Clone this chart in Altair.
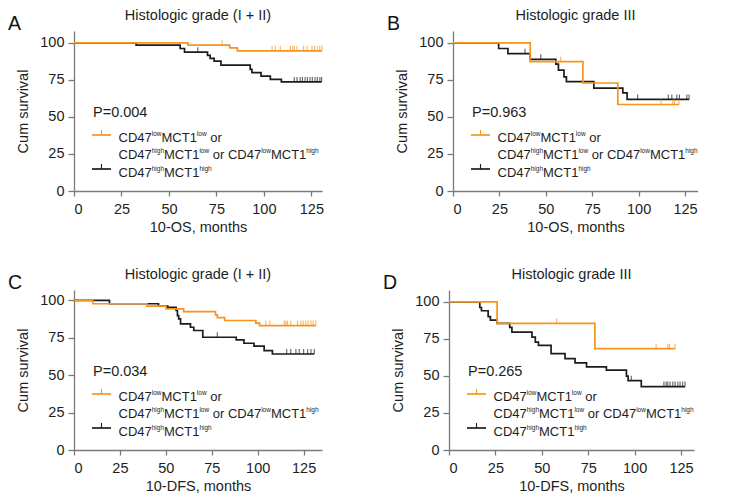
import altair as alt
import pandas as pd

FONT = "Liberation Sans"
ORANGE = "#F7941D"
BLACK = "#1c1c1c"
AXIS_GREY = "#7a7a7a"
TEXT = "#1e1e1e"

# ---------------- data ----------------
# Panel A: 10-OS, histologic grade (I + II)
a_low_t = [0, 60, 82, 86, 130.6]
a_low_s = [100, 98.4, 96.6, 94.6, 94.6]
a_low_cens = [78, 104.3, 106.0, 108.6, 113.9, 115.2, 116.0, 117.4, 120.9, 122.7,
              125.3, 126.6, 128.0, 129.4, 130.6]
a_high_t = [0, 32.7, 55.9, 58.2, 70.3, 71.7, 73.8, 77.4, 92.8, 93.7, 98.5, 103.4, 109.2, 130.4]
a_high_s = [100, 98.4, 96.2, 93.7, 91.5, 89.5, 87.7, 85.0, 82.1, 79.9, 77.6, 75.4, 73.6, 73.6]
a_high_cens = [65.2, 116.0, 117.4, 119.1, 120.3, 121.7, 122.9, 124.3, 125.5, 126.9,
               128.1, 129.5, 130.4]

# Panel B: 10-OS, histologic grade III
b_low_t = [0, 41.6, 70.0, 88.8, 121.8]
b_low_s = [100, 87.3, 72.9, 58.4, 58.4]
b_low_cens = [58.0, 112.0, 118.4, 119.3, 121.8]
b_high_t = [0, 24.6, 29.6, 41.6, 55.4, 56.8, 59.8, 61.1, 75.9, 91.5, 93.8, 127.2]
b_high_s = [100, 96.2, 92.7, 88.9, 85.6, 81.6, 77.1, 73.8, 69.5, 66.2, 61.8, 61.8]
b_high_cens = [38.8, 47.3, 99.5, 116.0, 117.9, 120.6, 122.0, 126.0, 127.2]

# Panel C: 10-DFS, histologic grade (I + II)
c_low_t = [0, 10.2, 39.7, 50.1, 59.7, 77.0, 78.0, 82.0, 99.0, 101.0, 131.7]
c_low_s = [100, 97.8, 96.2, 94.4, 92.6, 90.3, 88.5, 86.6, 84.8, 83.2, 83.2]
c_low_cens = [104.4, 106.6, 114.4, 115.3, 116.2, 118.0, 121.7, 123.5, 124.8, 126.2,
              127.5, 129.0, 130.2, 131.7]
c_high_t = [0, 19.3, 46.0, 51.0, 55.6, 56.3, 57.0, 58.0, 63.4, 65.2, 70.1, 88.3, 92.5,
            98.0, 103.5, 108.0, 130.8]
c_high_s = [100, 97.8, 96.2, 95.4, 93.3, 89.9, 87.7, 84.3, 82.1, 79.9, 75.4, 73.6, 71.4,
            69.4, 66.4, 64.2, 64.2]
c_high_cens = [78.0, 115.8, 118.0, 120.8, 122.6, 125.0, 127.2, 129.0, 130.8]

# Panel D: 10-DFS, histologic grade III
d_low_t = [0, 25.9, 78.6, 121.8]
d_low_s = [100, 85.5, 68.4, 68.4]
d_low_cens = [58.0, 111.6, 117.9, 118.8, 121.8]
d_high_t = [0, 16.6, 17.5, 21.1, 22.3, 25.9, 32.7, 33.9, 44.7, 46.5, 48.2, 55.0, 62.5,
            67.9, 74.1, 84.8, 95.6, 96.5, 103.6, 127.2]
d_high_s = [100, 96.2, 94.0, 90.0, 87.7, 85.5, 82.8, 79.5, 76.2, 72.8, 70.6, 65.0, 61.7,
            58.8, 56.1, 53.9, 49.9, 46.8, 42.8, 42.8]
d_high_cens = [98.2, 115.8, 117.0, 117.9, 119.1, 120.6, 121.8, 123.3, 124.5, 125.9, 127.2]

panel_letters = ["A", "B", "C", "D"]
panel_titles = ["Histologic grade (I + II)", "Histologic grade III",
                "Histologic grade (I + II)", "Histologic grade III"]
x_titles = ["10-OS, months", "10-OS, months", "10-DFS, months", "10-DFS, months"]
p_values = ["P=0.004", "P=0.963", "P=0.034", "P=0.265"]
x_ticks = [0, 25, 50, 75, 100, 125]
y_ticks = [0, 25, 50, 75, 100]
x_max = [130.6, 132, 135, 132]
y_max = [108, 108, 107, 108]

# ---------------- helpers ----------------
ARIAL_W = {'C': 722, 'D': 722, '4': 556, '7': 556, 'M': 833, 'T': 611, '1': 556,
           ' ': 278, 'o': 556, 'r': 333, 'l': 222, 'w': 722, 'h': 556,
           'i': 222, 'g': 556}


def text_w(s, size):
    return sum(ARIAL_W.get(ch, 556) for ch in s) * size / 1000.0


def step_value(ts, ss, t):
    v = ss[0]
    for ti, si in zip(ts, ss):
        if ti <= t:
            v = si
    return v


MAIN = 13.0
SUP = 6.5
RAISE = 6.0

legend_lines = [
    [("CD47", False), ("low", True), ("MCT1", False), ("low", True), (" or", False)],
    [("CD47", False), ("high", True), ("MCT1", False), ("low", True),
     (" or", False), (" CD47", False), ("low", True), ("MCT1", False), ("high", True)],
    [("CD47", False), ("high", True), ("MCT1", False), ("high", True)],
]
legend_base = [110.5, 128, 145.5]
LEG_X = 44.5


def panel(i, low_t, low_s, low_c, high_t, high_s, high_c, w, h):
    xs = alt.Scale(domain=[0, x_max[i]], nice=False, zero=False)
    ys = alt.Scale(domain=[0, y_max[i]], nice=False, zero=False)
    xaxis = alt.Axis(values=x_ticks, title=x_titles[i], tickSize=5, labelPadding=6,
                     titlePadding=5, labelOverlap=False)
    yaxis = alt.Axis(values=y_ticks, title="Cum survival", tickSize=6, labelPadding=4,
                     titlePadding=9, labelOverlap=False)

    hi_df = pd.DataFrame({"t": high_t, "s": high_s})
    lo_df = pd.DataFrame({"t": low_t, "s": low_s})
    hi_c = pd.DataFrame({"t": high_c, "s": [step_value(high_t, high_s, t) for t in high_c]})
    lo_c = pd.DataFrame({"t": low_c, "s": [step_value(low_t, low_s, t) for t in low_c]})

    def line(df, col):
        return alt.Chart(df).mark_line(interpolate="step-after", strokeWidth=1.7,
                                       color=col).encode(
            x=alt.X("t:Q", scale=xs, axis=xaxis),
            y=alt.Y("s:Q", scale=ys, axis=yaxis))

    def cens(df, col):
        return alt.Chart(df).mark_tick(orient="vertical", size=5, thickness=1.1,
                                       yOffset=-2.5, color=col).encode(
            x=alt.X("t:Q", scale=xs, axis=xaxis),
            y=alt.Y("s:Q", scale=ys, axis=yaxis))

    one = pd.DataFrame({"k": [0]})
    layers = [line(hi_df, BLACK), cens(hi_c, BLACK), line(lo_df, ORANGE), cens(lo_c, ORANGE)]

    def txt(s, x, y, size, align="left", color=TEXT):
        return alt.Chart(one).mark_text(text=s, fontSize=size, font=FONT, align=align,
                                        baseline="alphabetic", color=color).encode(
            x=alt.value(x), y=alt.value(y))

    # panel title and letter
    layers.append(txt(panel_titles[i], w / 2, -11, 14.5, align="center"))
    layers.append(txt(panel_letters[i], -66, -1, 19.5, color="#111"))
    layers.append(txt(p_values[i], 19, 86, 14.5))
    # legend samples
    for col, yy in [(ORANGE, 104), (BLACK, 138)]:
        layers.append(alt.Chart(one).mark_rule(color=col, strokeWidth=1.7).encode(
            x=alt.value(18), x2=alt.value(37), y=alt.value(yy)))
        layers.append(alt.Chart(one).mark_rule(color=col, strokeWidth=1.1).encode(
            x=alt.value(27.5), y=alt.value(yy - 5), y2=alt.value(yy)))
    # legend text with superscripts
    for line_segs, base in zip(legend_lines, legend_base):
        xpos = LEG_X
        for seg, sup in line_segs:
            size = SUP if sup else MAIN
            yy = base - RAISE if sup else base
            stripped = seg.lstrip(" ")
            xpos += text_w(seg[:len(seg) - len(stripped)], size)
            layers.append(txt(stripped, xpos, yy, size))
            xpos += text_w(stripped, size)

    return alt.layer(*layers).properties(width=w, height=h)


pA = panel(0, a_low_t, a_low_s, a_low_cens, a_high_t, a_high_s, a_high_cens, 248, 160)
pB = panel(1, b_low_t, b_low_s, b_low_cens, b_high_t, b_high_s, b_high_cens, 245, 160)
pC = panel(2, c_low_t, c_low_s, c_low_cens, c_high_t, c_high_s, c_high_cens, 248, 160)
pD = panel(3, d_low_t, d_low_s, d_low_cens, d_high_t, d_high_s, d_high_cens, 245, 160)

chart = alt.vconcat(
    alt.hconcat(pA, pB, spacing=61),
    alt.hconcat(pC, pD, spacing=61),
    spacing=33,
).properties(padding=0).configure_view(stroke=None).configure_axis(
    grid=False,
    domainColor=AXIS_GREY, domainWidth=1.3,
    tickColor=AXIS_GREY, tickWidth=1.3,
    labelFont=FONT, labelFontSize=14.5, labelColor=TEXT,
    titleFont=FONT, titleFontSize=14.5, titleFontWeight="normal", titleColor=TEXT,
)

chart.save("out.html", embed_options={"renderer": "svg", "actions": False})
